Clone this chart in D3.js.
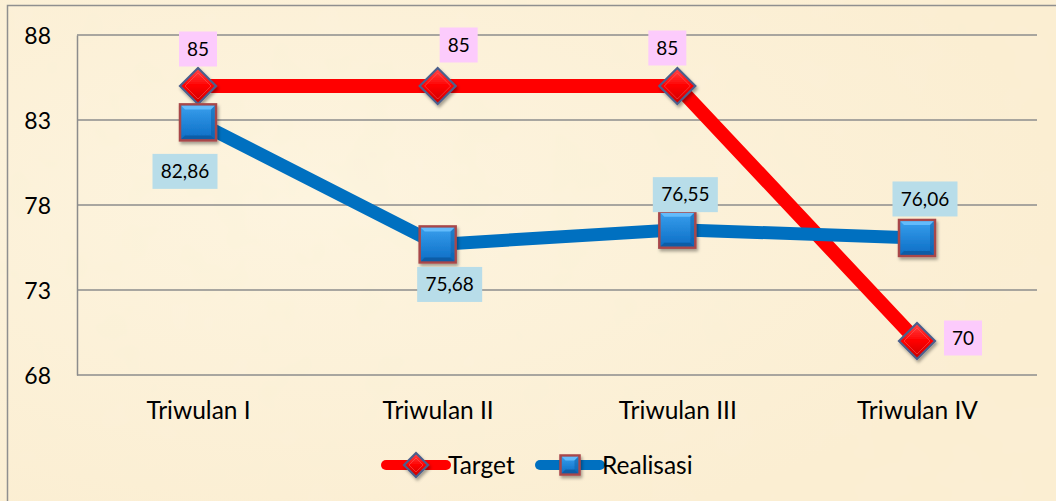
<!DOCTYPE html>
<html><head><meta charset="utf-8">
<script src="https://cdn.jsdelivr.net/npm/d3@7/dist/d3.min.js"></script>
<style>
html,body{margin:0;padding:0;background:#fcf1da;}
svg{display:block;font-family:Lato,"Open Sans",sans-serif;}
</style></head>
<body>
<svg id="c" width="1056" height="501"></svg>
<script>
const categories = ["Triwulan I","Triwulan II","Triwulan III","Triwulan IV"];
const target = [85,85,85,70];
const realisasi = [82.86,75.68,76.55,76.06];
const yTicks = [68,73,78,83,88];
const seriesNames = ["Target","Realisasi"];
// label offsets (styling)
const targetLabelOff = [[0,-37],[21,-41],[-10,-38],[46,-3]];
const realLabelOff = [[-13,49],[12,40],[8,-35],[8,-39]];

const svg = d3.select("#c");
const W=1056,H=501;
const defs = svg.append("defs");

// background texture
const bg = defs.append("radialGradient").attr("id","bgA").attr("cx","30%").attr("cy","40%").attr("r","70%");
bg.append("stop").attr("offset","0%").attr("stop-color","#fdf4e0");
bg.append("stop").attr("offset","100%").attr("stop-color","#fbeed3");
svg.append("rect").attr("width",W).attr("height",H).attr("fill","url(#bgA)");
const f = defs.append("filter").attr("id","tex").attr("x",0).attr("y",0).attr("width","100%").attr("height","100%");
f.append("feTurbulence").attr("type","fractalNoise").attr("baseFrequency","0.02").attr("numOctaves",3).attr("seed",4);
f.append("feColorMatrix").attr("type","matrix").attr("values","0 0 0 0 0.93  0 0 0 0 0.86  0 0 0 0 0.6  0 0 0 0.15 0");
svg.append("rect").attr("width",W).attr("height",H).attr("filter","url(#tex)");

// outer border
svg.append("rect").attr("x",7.5).attr("y",5.5).attr("width",W).attr("height",H).attr("fill","none").attr("stroke","#8f8f8f").attr("stroke-width",1.5);

const x = d3.scalePoint().domain(categories).range([198,917]);
const y = d3.scaleLinear().domain([68,88]).range([375,35]);
const plotL=77, plotR=1037;

// gridlines
svg.append("g").selectAll("line").data(yTicks).join("line")
 .attr("x1",plotL).attr("x2",plotR).attr("y1",d=>y(d)).attr("y2",d=>y(d))
 .attr("stroke","#8c8c8c").attr("stroke-width",1.5);
// left axis
const yAxis = d3.axisLeft(y).tickValues(yTicks).tickSize(0).tickPadding(0).tickFormat(d3.format("d"));
const gy = svg.append("g").attr("transform",`translate(${plotL},0)`).call(yAxis);
gy.attr("font-size",null).attr("font-family",null);
gy.select(".domain").attr("stroke","#8c8c8c").attr("stroke-width",1.5);
gy.selectAll("text").attr("x",-26).attr("dy","0.36em").style("font-size","23px").style("fill","#000").style("font-family","Lato,'Open Sans',sans-serif");

// x axis labels
const xAxis = d3.axisBottom(x).tickSize(0).tickPadding(0);
const gx = svg.append("g").attr("transform",`translate(0,${y(68)})`).call(xAxis);
gx.attr("font-size",null).attr("font-family",null);
gx.select(".domain").remove();
gx.selectAll("text").attr("y",35).attr("dy","0.36em").style("font-size","24.5px").style("fill","#000").style("font-family","Lato,'Open Sans',sans-serif");

// gradients for markers
const gr = defs.append("linearGradient").attr("id","redG").attr("x1",0).attr("y1",0).attr("x2",0).attr("y2",1);
gr.append("stop").attr("offset","0%").attr("stop-color","#ff4a4a");
gr.append("stop").attr("offset","50%").attr("stop-color","#f00");
gr.append("stop").attr("offset","100%").attr("stop-color","#c80000");
const gb = defs.append("linearGradient").attr("id","blueG").attr("x1",0).attr("y1",0).attr("x2",0).attr("y2",1);
gb.append("stop").attr("offset","0%").attr("stop-color","#3aa0ee");
gb.append("stop").attr("offset","100%").attr("stop-color","#0a6cc4");
const sh = defs.append("filter").attr("id","shadow").attr("x","-30%").attr("y","-30%").attr("width","170%").attr("height","170%");
sh.append("feDropShadow").attr("dx",1.5).attr("dy",2.5).attr("stdDeviation",1.8).attr("flood-color","#000").attr("flood-opacity",0.35);

const line = d3.line().x((d,i)=>x(categories[i])).y(d=>y(d));

function diamond(g,cx,cy,r){
  const m = g.append("g").attr("transform",`translate(${cx},${cy})`).attr("filter","url(#shadow)");
  m.append("path").attr("d",`M0,${-r}L${r},0L0,${r}L${-r},0Z`).attr("fill","url(#redG)").attr("stroke","#4c5f8c").attr("stroke-width",2.2);
  m.append("path").attr("d",`M0,${-r+5}L${r-5},0L0,${r-5}L${-r+5},0Z`).attr("fill","none").attr("stroke","#ff6b6b").attr("stroke-width",0.8).attr("opacity",0.6);
}
function square(g,cx,cy,s){
  const m = g.append("g").attr("transform",`translate(${cx},${cy})`).attr("filter","url(#shadow)");
  const h=s/2;
  m.append("rect").attr("x",-h).attr("y",-h).attr("width",s).attr("height",s).attr("fill","url(#blueG)").attr("stroke","#a8464a").attr("stroke-width",2.5);
  const b=5;
  m.append("path").attr("d",`M${-h+1.3},${-h+1.3}L${h-1.3},${-h+1.3}L${h-b},${-h+b}L${-h+b},${-h+b}Z`).attr("fill","#6fc3ff").attr("opacity",0.8);
  m.append("path").attr("d",`M${-h+1.3},${h-1.3}L${h-1.3},${h-1.3}L${h-b},${h-b}L${-h+b},${h-b}Z`).attr("fill","#0b4f8f").attr("opacity",0.6);
  m.append("path").attr("d",`M${h-1.3},${-h+1.3}L${h-1.3},${h-1.3}L${h-b},${h-b}L${h-b},${-h+b}Z`).attr("fill","#0b5aa0").attr("opacity",0.45);
}

// series lines: red first, blue over
svg.append("path").datum(target).attr("d",line).attr("fill","none").attr("stroke","#ff0000").attr("stroke-width",14).attr("stroke-linejoin","round");
svg.append("path").datum(realisasi).attr("d",line).attr("fill","none").attr("stroke","#0070c0").attr("stroke-width",13).attr("stroke-linejoin","round");

const mk = svg.append("g");
target.forEach((v,i)=>diamond(mk,x(categories[i]),y(v),18));
realisasi.forEach((v,i)=>square(mk,x(categories[i]),y(v),36));

// data labels
const fmt = v => (Number.isInteger(v)? String(v) : v.toFixed(2).replace(".",","));
function label(cx,cy,text,fill){
  const w = text.length<=2?38:65, h=35;
  const g = svg.append("g");
  g.append("rect").attr("x",cx-w/2).attr("y",cy-h/2).attr("width",w).attr("height",h).attr("fill",fill);
  g.append("text").attr("x",cx).attr("y",cy).attr("dy","0.36em").attr("text-anchor","middle").style("font-size","19px").attr("fill","#000").text(text);
}
target.forEach((v,i)=>label(x(categories[i])+targetLabelOff[i][0], y(v)+targetLabelOff[i][1], fmt(v), "#fccbfc"));
realisasi.forEach((v,i)=>label(x(categories[i])+realLabelOff[i][0], y(v)+realLabelOff[i][1], fmt(v), "#b8dde9"));

// legend
const lg = svg.append("g");
const legendItems = [{name:seriesNames[0],x0:386,color:"#ff0000",kind:"d"},{name:seriesNames[1],x0:540,color:"#0070c0",kind:"s"}];
const ly=465;
legendItems.forEach(it=>{
  lg.append("line").attr("x1",it.x0).attr("x2",it.x0+60).attr("y1",ly).attr("y2",ly).attr("stroke",it.color).attr("stroke-width",10).attr("stroke-linecap","round");
  if(it.kind==="d") diamond(lg,it.x0+30,ly,12); else square(lg,it.x0+30,ly,19);
  lg.append("text").attr("x",it.x0+62).attr("y",ly).attr("dy","0.36em").style("font-size","24.5px").attr("fill","#000").text(it.name);
});
</script>
</body></html>
